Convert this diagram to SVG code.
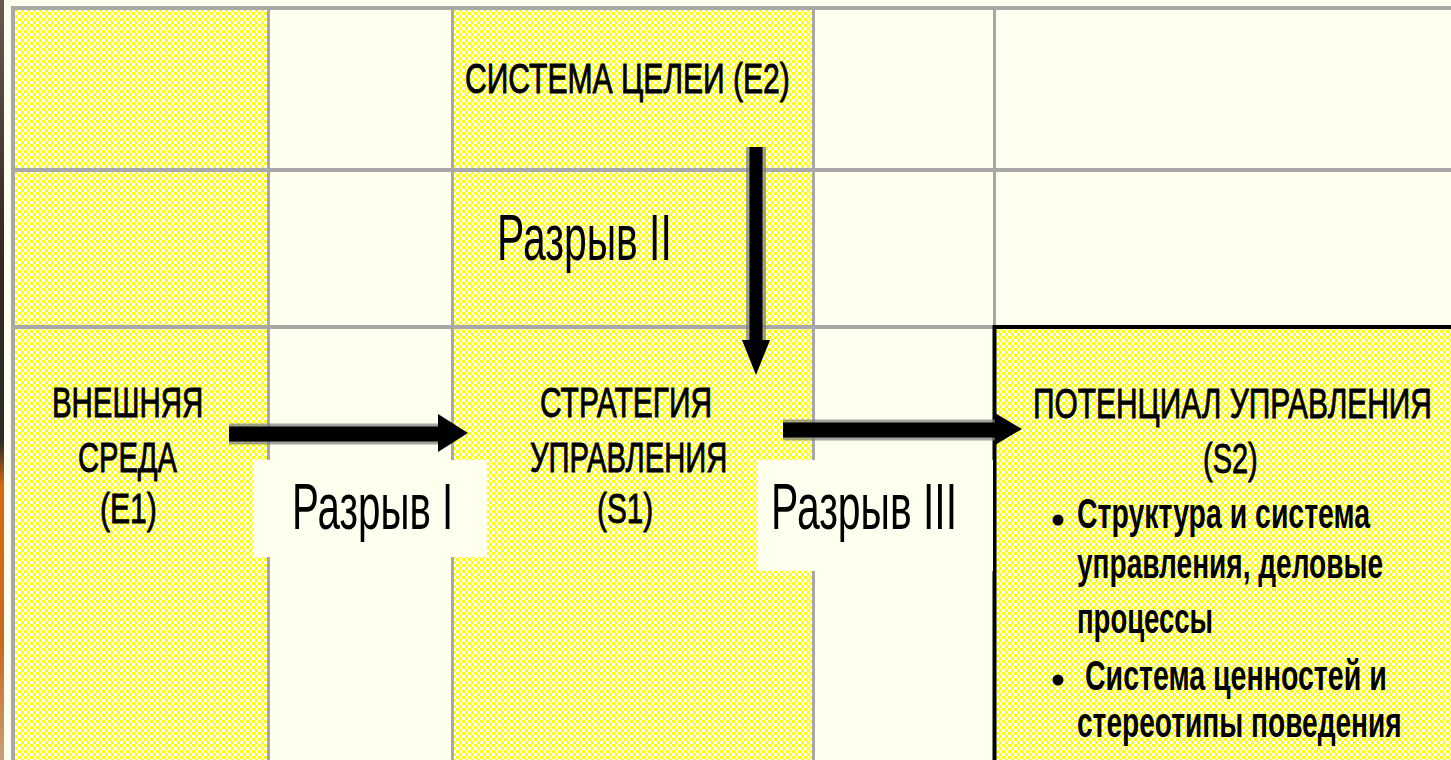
<svg xmlns="http://www.w3.org/2000/svg" width="1451" height="760" viewBox="0 0 1451 760">
<defs>
<pattern id="yel" x="0" y="0" width="6" height="6" patternUnits="userSpaceOnUse">
<rect width="6" height="6" fill="#FFFFFF"/>
<rect x="0" y="0" width="3" height="3" fill="#FFFF00"/>
<rect x="3" y="3" width="3" height="3" fill="#FFFF00"/>
</pattern>
<linearGradient id="photo" x1="0" y1="0" x2="0" y2="1">
<stop offset="0" stop-color="#6a5a50"/>
<stop offset="0.3" stop-color="#3a2a22"/>
<stop offset="0.58" stop-color="#2a2a28"/>
<stop offset="0.64" stop-color="#d86a10"/>
<stop offset="0.85" stop-color="#c86a20"/>
<stop offset="1" stop-color="#c8a078"/>
</linearGradient>
<style>
.y{fill:url(#yel)}
.g{fill:#A8A8A8}
.box{fill:#FFFFF0}
.t{font-family:"Liberation Sans",Arial,sans-serif;fill:#000}
.cap{font-size:42px;stroke:#000;stroke-width:0.9px}
.gap{font-size:64px}
.li{font-size:42px;font-weight:bold}
.shaft{stroke:#000;fill:none}
.blur{stroke:#7a7a7a;fill:none;opacity:0.7}
.head{fill:#000}
</style>
</defs>
<rect width="1451" height="760" fill="#FFFFF0"/>
<rect x="0" y="0" width="4" height="760" fill="url(#photo)"/>

<g id="grid">
<rect class="y" x="15" y="10" width="252" height="158"/>
<rect class="y" x="15" y="172" width="252" height="153"/>
<rect class="y" x="15" y="329" width="252" height="431"/>
<rect class="y" x="454" y="10" width="358" height="158"/>
<rect class="y" x="454" y="172" width="358" height="153"/>
<rect class="y" x="454" y="329" width="358" height="431"/>
<rect class="g" x="11" y="6" width="1440" height="4"/>
<rect class="g" x="11" y="168" width="1440" height="4"/>
<rect class="g" x="11" y="325" width="984" height="4"/>
<rect class="g" x="11" y="6" width="4" height="754"/>
<rect class="g" x="267" y="6" width="3" height="754"/>
<rect class="g" x="451" y="6" width="3" height="754"/>
<rect class="g" x="812" y="6" width="3" height="754"/>
<rect class="g" x="993" y="6" width="3" height="320"/>
</g>

<g id="S2">
<rect class="y" x="996" y="329" width="455" height="431"/>
<path d="M994.5,760 V327 H1451" fill="none" stroke="#000" stroke-width="4"/>
<text class="t cap" transform="translate(1033,418) scale(0.72,1)" textLength="554" lengthAdjust="spacingAndGlyphs">ПОТЕНЦИАЛ УПРАВЛЕНИЯ</text>
<text class="t cap" transform="translate(1203,473) scale(0.72,1)" textLength="76" lengthAdjust="spacingAndGlyphs">(S2)</text>
<circle cx="1058" cy="520" r="5.5" fill="#000"/>
<text class="t li" transform="translate(1077,528) scale(0.72,1)" textLength="407" lengthAdjust="spacingAndGlyphs">Структура и система</text>
<text class="t li" transform="translate(1077,578) scale(0.72,1)" textLength="425" lengthAdjust="spacingAndGlyphs">управления, деловые</text>
<text class="t li" transform="translate(1077,633) scale(0.72,1)" textLength="189" lengthAdjust="spacingAndGlyphs">процессы</text>
<circle cx="1058" cy="680" r="5.5" fill="#000"/>
<text class="t li" transform="translate(1085,690) scale(0.72,1)" textLength="419" lengthAdjust="spacingAndGlyphs">Система ценностей и</text>
<text class="t li" transform="translate(1077,737) scale(0.72,1)" textLength="451" lengthAdjust="spacingAndGlyphs">стереотипы поведения</text>
</g>

<g id="gap1">
<rect class="box" x="253" y="460" width="234" height="97"/>
<text class="t gap" transform="translate(292,529) scale(0.62,1)" textLength="260" lengthAdjust="spacingAndGlyphs">Разрыв I</text>
</g>
<g id="gap3">
<rect class="box" x="757" y="460" width="236" height="111"/>
<text class="t gap" transform="translate(771,529) scale(0.62,1)" textLength="300" lengthAdjust="spacingAndGlyphs">Разрыв III</text>
</g>
<g id="gap2">
<text class="t gap" transform="translate(497,260) scale(0.62,1)" textLength="282" lengthAdjust="spacingAndGlyphs">Разрыв II</text>
</g>

<g id="E2">
<text class="t cap" transform="translate(465,93) scale(0.72,1)" textLength="451" lengthAdjust="spacingAndGlyphs">СИСТЕМА ЦЕЛЕИ (Е2)</text>
</g>
<g id="E1">
<text class="t cap" transform="translate(52,417) scale(0.72,1)" textLength="210" lengthAdjust="spacingAndGlyphs">ВНЕШНЯЯ</text>
<text class="t cap" transform="translate(78,472) scale(0.72,1)" textLength="137.5" lengthAdjust="spacingAndGlyphs">СРЕДА</text>
<text class="t cap" transform="translate(100,523) scale(0.72,1)" textLength="79" lengthAdjust="spacingAndGlyphs">(Е1)</text>
</g>
<g id="S1">
<text class="t cap" transform="translate(540,417) scale(0.72,1)" textLength="239" lengthAdjust="spacingAndGlyphs">СТРАТЕГИЯ</text>
<text class="t cap" transform="translate(530,472) scale(0.72,1)" textLength="274" lengthAdjust="spacingAndGlyphs">УПРАВЛЕНИЯ</text>
<text class="t cap" transform="translate(597,523) scale(0.72,1)" textLength="78" lengthAdjust="spacingAndGlyphs">(S1)</text>
</g>

<g id="connectors">
<line class="blur" x1="229" y1="434" x2="442" y2="434" stroke-width="21"/>
<line class="shaft" x1="229" y1="434" x2="442" y2="434" stroke-width="15"/>
<polygon class="head" points="438,414 468,433 438,452"/>
<line class="blur" x1="756" y1="147" x2="756" y2="342" stroke-width="20"/>
<line class="shaft" x1="756" y1="147" x2="756" y2="342" stroke-width="13"/>
<polygon class="head" points="742,340 756,375 770,340"/>
<line class="blur" x1="783" y1="430" x2="998" y2="430" stroke-width="21"/>
<line class="shaft" x1="783" y1="430" x2="998" y2="430" stroke-width="15"/>
<polygon class="head" points="995,413 1022,429 995,445"/>
</g>
</svg>
